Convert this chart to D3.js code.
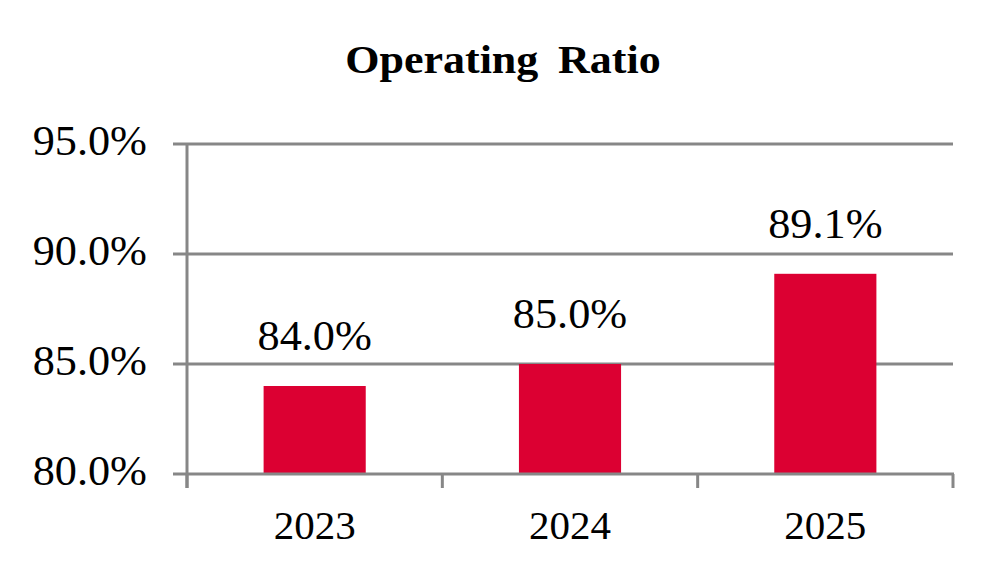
<!DOCTYPE html>
<html><head><meta charset="utf-8">
<script src="https://cdn.jsdelivr.net/npm/d3@7"></script>
<style>body{margin:0;background:#fff}svg{display:block}</style>
</head><body>
<script>
const categories = ["2023","2024","2025"];
const values = [84.0, 85.0, 89.1];
const yTicks = [80, 85, 90, 95];
const title = "Operating Ratio";

const W = 1004, H = 583;
const m = {left:187, right:953, top:144, bottom:474};
const svg = d3.select("body").append("svg").attr("width",W).attr("height",H);
const x = d3.scaleBand().domain(categories).range([m.left,m.right]).paddingInner(0.6).paddingOuter(0.3);
const xb = d3.scaleBand().domain(categories).range([m.left,m.right]);
const y = d3.scaleLinear().domain([80,95]).range([m.bottom,m.top]);
const grey = "#878787";
const font = "'Liberation Serif','Times New Roman',serif";
const SX = 1.03, PF = 43;

svg.append("text").attr("transform","translate(503,73) scale(1.1,1)").attr("text-anchor","middle")
  .attr("font-family",font).attr("font-weight","bold").attr("font-size",40)
  .attr("word-spacing",8).text(title);

// gridlines
svg.append("g").selectAll("line").data(yTicks.filter(d=>d>80)).join("line")
  .attr("x1",m.left-14).attr("x2",m.right).attr("y1",d=>y(d)).attr("y2",d=>y(d))
  .attr("stroke",grey).attr("stroke-width",3);

// bars
svg.append("g").selectAll("rect").data(values).join("rect")
  .attr("x",(d,i)=>x(categories[i])).attr("width",x.bandwidth())
  .attr("y",d=>y(d)).attr("height",d=>y(80)-y(d)).attr("fill","#DC0032");

// left axis line
svg.append("line").attr("x1",m.left).attr("x2",m.left).attr("y1",m.top).attr("y2",m.bottom+14)
  .attr("stroke",grey).attr("stroke-width",3);
// bottom axis
svg.append("line").attr("x1",m.left-14).attr("x2",m.right+1).attr("y1",m.bottom).attr("y2",m.bottom)
  .attr("stroke",grey).attr("stroke-width",3);
const bt = categories.map(c=>xb(c)).concat([m.right]);
svg.append("g").selectAll("line").data(bt).join("line")
  .attr("x1",d=>d).attr("x2",d=>d).attr("y1",m.bottom).attr("y2",m.bottom+14)
  .attr("stroke",grey).attr("stroke-width",3);

// y labels
svg.append("g").selectAll("text").data(yTicks).join("text")
  .attr("transform",d=>`translate(147,${y(d)+11}) scale(${SX},1)`).attr("text-anchor","end")
  .attr("font-family",font).attr("font-size",PF).text(d=>d.toFixed(1)+"%");

// x labels
svg.append("g").selectAll("text").data(categories).join("text")
  .attr("x",d=>xb(d)+xb.bandwidth()/2).attr("y",539).attr("text-anchor","middle")
  .attr("font-family",font).attr("font-size",41).text(d=>d);

// value labels
svg.append("g").selectAll("text").data(values).join("text")
  .attr("transform",(d,i)=>`translate(${x(categories[i])+x.bandwidth()/2},${y(d)-36}) scale(${SX},1)`)
  .attr("text-anchor","middle")
  .attr("font-family",font).attr("font-size",PF).text(d=>d.toFixed(1)+"%");
</script>
</body></html>
